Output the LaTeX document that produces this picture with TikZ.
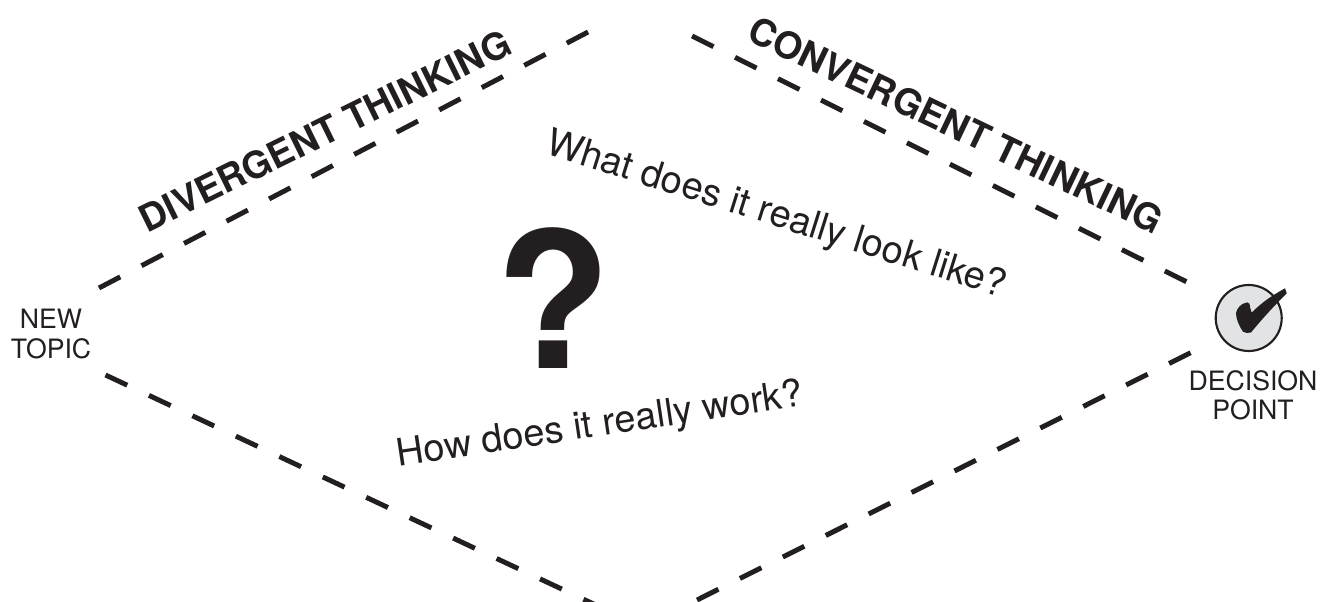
\documentclass[tikz,border=0pt]{standalone}
\usepackage{fontspec}
\setmainfont{TeX Gyre Heros}
\definecolor{ink}{HTML}{231F20}
\definecolor{disc}{HTML}{E2E3E4}
\tikzset{
  px/.style={x=0.75pt,y=-0.75pt},
  dashline/.style={draw=ink,line width=3.7pt,dash pattern=on 18pt off 18pt},
  small/.style={text=ink,font=\fontsize{20}{22}\selectfont,align=center,inner sep=0pt},
  head/.style={text=ink,font=\bfseries\fontsize{28}{32}\selectfont,inner sep=0pt},
  ask/.style={text=ink,font=\fontsize{28.5}{34}\selectfont,inner sep=0pt},
}
\begin{document}
\begin{tikzpicture}[px]
\useasboundingbox (0,0) rectangle (1330,602);
\coordinate (ul0) at (99,288);
\coordinate (ul1) at (590,31);
\coordinate (ur0) at (692,36);
\coordinate (ur1) at (1187,282);
\coordinate (ll0) at (105.5,375);
\coordinate (ll1) at (600,607);
\coordinate (lr0) at (697,600);
\coordinate (lr1) at (1192,352);
\draw[dashline] (ul0) -- (ul1);
\draw[dashline] (ur0) -- (ur1);
\draw[dashline] (ll0) -- (ll1);
\draw[dashline] (lr0) -- (lr1);
\node[small] (newtopic) at (51,334) {NEW\\TOPIC};
\node[small] (decision) at (1253,395) {DECISION\\POINT};
\node[head,rotate=26.2] (div) at (325,131) {DIVERGENT THINKING};
\node[head,rotate=-25.5] (conv) at (956,125) {CONVERGENT THINKING};
\node[ask,rotate=-17.5] (what) at (776,216) {What does it really look like?};
\node[ask,rotate=8.5] (how) at (600,426) {How does it really work?};
\node[text=ink,font=\bfseries\fontsize{142}{150}\selectfont,inner sep=0pt] (q) at (553,298) {?};
\node[circle,draw=ink,fill=disc,line width=1.6pt,inner sep=0pt,minimum size=49.5pt] (disc) at (1248.7,318) {};
\fill[ink] (1236,313) .. controls (1237,308) and (1241,304) .. (1245,303)
  .. controls (1247,302) and (1249,302) .. (1249.5,304)
  .. controls (1250,307) and (1250.5,310) .. (1251.7,312.7)
  .. controls (1262,302) and (1273,295) .. (1285,288.3)
  -- (1286.7,293.3)
  .. controls (1274,306) and (1262,319) .. (1251,332.5)
  .. controls (1248,333.5) and (1245,333) .. (1243,331.7)
  .. controls (1239,326) and (1236,319) .. (1236,313) -- cycle;
\end{tikzpicture}
\end{document}
